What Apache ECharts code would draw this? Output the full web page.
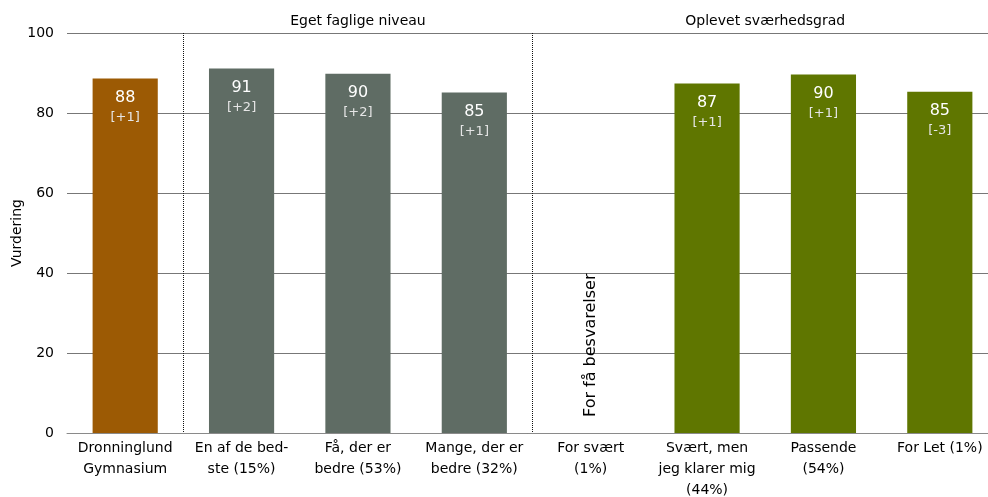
<!DOCTYPE html>
<html>
<head>
<meta charset="utf-8">
<script src="https://cdn.jsdelivr.net/npm/echarts@6/dist/echarts.min.js"></script>
<style>
  html, body { margin: 0; padding: 0; background: #fff; }
  #chart { width: 988px; height: 497px; }
</style>
</head>
<body>
<div id="chart"></div>
<script>
const categories = [
  'Dronninglund\nGymnasium',
  'En af de bed-\nste (15%)',
  'Få, der er\nbedre (53%)',
  'Mange, der er\nbedre (32%)',
  'For svært\n(1%)',
  'Svært, men\njeg klarer mig\n(44%)',
  'Passende\n(54%)',
  'For Let (1%)'
]
// bar heights (null = too few answers)
const scores = [88.6, 91.1, 89.8, 85.1, null, 87.4, 89.6, 85.3]
const shownScores = ['88', '91', '90', '85', '', '87', '90', '85']
const changes = ['[+1]', '[+2]', '[+2]', '[+1]', '', '[+1]', '[+1]', '[-3]']
const groups = [
  { name: 'Eget faglige niveau', from: 1, to: 3 },
  { name: 'Oplevet sværhedsgrad', from: 4, to: 7 }
]
const noDataText = 'For få besvarelser'
const yTicks = { min: 0, max: 100, interval: 20 }

const barColors = ['#9c5a04', '#5f6c64', '#5f6c64', '#5f6c64', '#5f7600', '#5f7600', '#5f7600', '#5f7600']
const font = '"DejaVu Sans", sans-serif'

const chart = echarts.init(document.getElementById('chart'), null, { renderer: 'canvas' })

const barData = scores.map((v, i) => {
  if (v === null) {
    return {
      value: 0,
      itemStyle: { color: barColors[i] },
      label: {
        show: true,
        position: 'insideBottom',
        distance: 16,
        rotate: 90,
        align: 'left',
        verticalAlign: 'middle',
        formatter: noDataText,
        color: '#000',
        fontSize: 16,
        fontFamily: font
      }
    }
  }
  return { value: v, itemStyle: { color: barColors[i] } }
})

chart.setOption({
  animation: false,
  textStyle: { fontFamily: font },
  grid: {
    left: 67,
    right: -10,
    top: 33,
    bottom: 64,
    outerBoundsMode: 'none',
    containLabel: false
  },
  xAxis: {
    type: 'category',
    data: categories,
    axisTick: { show: false },
    axisLine: { lineStyle: { color: '#8a8a8a', width: 1 } },
    axisLabel: {
      interval: 0,
      color: '#000',
      fontSize: 14,
      lineHeight: 21,
      margin: 5,
      fontFamily: font
    },
    splitLine: {
      show: true,
      interval: (i) => i === 1 || i === 4,
      lineStyle: { type: 'dotted', color: '#111', width: 1 }
    }
  },
  yAxis: {
    type: 'value',
    min: yTicks.min,
    max: yTicks.max,
    interval: yTicks.interval,
    name: 'Vurdering',
    nameLocation: 'middle',
    nameGap: 43,
    nameMoveOverlap: false,
    nameTextStyle: { color: '#000', fontSize: 14, fontFamily: font },
    axisLine: { show: false },
    axisTick: { show: false },
    axisLabel: { color: '#000', fontSize: 14, margin: 13, fontFamily: font },
    splitLine: { lineStyle: { color: '#777', width: 1 } }
  },
  series: [{
    type: 'bar',
    barWidth: '56%',
    data: barData,
    label: {
      show: true,
      position: 'insideTop',
      distance: 9,
      fontFamily: font,
      formatter: (p) => '{v|' + shownScores[p.dataIndex] + '}\n{d|' + changes[p.dataIndex] + '}',
      rich: {
        v: { color: '#fff', fontSize: 16, lineHeight: 20, fontFamily: font },
        d: { color: '#e6e6e6', fontSize: 13, lineHeight: 20, fontFamily: font }
      }
    },
    markArea: {
      silent: true,
      itemStyle: { color: 'transparent' },
      label: {
        show: true,
        position: 'top',
        distance: 5,
        color: '#000',
        fontSize: 14,
        fontFamily: font
      },
      data: groups.map(g => [
        { name: g.name, xAxis: categories[g.from], yAxis: yTicks.min },
        { xAxis: categories[g.to], yAxis: yTicks.max }
      ])
    }
  }]
})
</script>
</body>
</html>
